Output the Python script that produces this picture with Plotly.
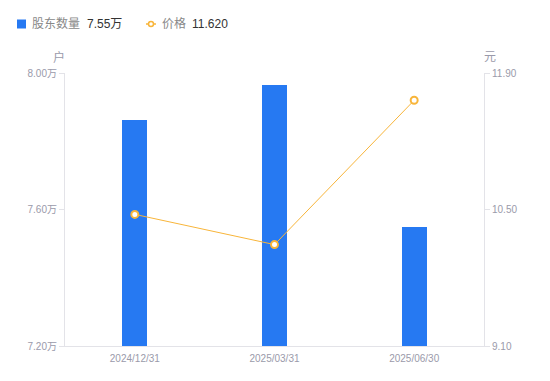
import plotly.graph_objects as go

dates = ["2024/12/31", "2025/03/31", "2025/06/30"]
holders_wan = [7.862, 7.965, 7.549]
price = [10.45, 10.14, 11.62]
left_ticks = [7.2, 7.6, 8.0]
right_ticks = [9.1, 10.5, 11.9]

BLUE = "#2679f2"
ORANGE = "#f8b53a"
GRAY = "#9a9aaa"
AX = "#e3e3e8"
FONT = "Liberation Sans, Noto Sans CJK SC, sans-serif"

L, R, T, B, W, H = 65, 66, 73, 35, 550, 381
PW, PH = W - L - R, H - T - B


def px(x):
    return (x - L) / PW


def py(y):
    return (H - B - y) / PH


fig = go.Figure()
fig.add_trace(go.Bar(x=dates, y=holders_wan, marker=dict(color=BLUE, line=dict(width=0)),
                     width=0.18, yaxis="y", showlegend=False))
fig.add_trace(go.Scatter(x=dates, y=price, yaxis="y2", mode="lines+markers",
                         line=dict(color=ORANGE, width=1),
                         marker=dict(symbol="circle", size=7, color="white",
                                     line=dict(color=ORANGE, width=2)),
                         showlegend=False))

fig.update_layout(
    width=W, height=H,
    margin=dict(l=L, r=R, t=T, b=B),
    paper_bgcolor="white", plot_bgcolor="white",
    font=dict(family=FONT, size=10, color=GRAY),
    bargap=0,
    xaxis=dict(showgrid=False, showline=True, linecolor=AX, linewidth=1,
               ticks="outside", ticklen=3, tickcolor="rgba(0,0,0,0)",
               tickfont=dict(size=10, color=GRAY), fixedrange=True),
    yaxis=dict(range=[left_ticks[0], left_ticks[-1]], tickvals=left_ticks,
               ticktext=["%.2f万" % v for v in left_ticks],
               showgrid=False, zeroline=False,
               showline=True, linecolor=AX, linewidth=1,
               ticks="outside", ticklen=5, tickcolor=AX,
               tickfont=dict(size=10, color=GRAY)),
    yaxis2=dict(range=[right_ticks[0], right_ticks[-1]], tickvals=right_ticks,
                ticktext=["%.2f" % v for v in right_ticks],
                overlaying="y", side="right", showgrid=False,
                zeroline=False, showline=True, linecolor=AX, linewidth=1,
                ticks="outside", ticklen=5, tickcolor=AX,
                tickfont=dict(size=10, color=GRAY)),
)

# axis units
fig.add_annotation(xref="paper", yref="paper", x=px(59), y=py(57),
                   text="户", showarrow=False, font=dict(size=12, color=GRAY),
                   xanchor="center", yanchor="middle")
fig.add_annotation(xref="paper", yref="paper", x=px(490), y=py(57),
                   text="元", showarrow=False, font=dict(size=12, color=GRAY),
                   xanchor="center", yanchor="middle")

# custom legend
fig.add_shape(type="rect", xref="paper", yref="paper",
              x0=px(17), x1=px(26), y0=py(28.5), y1=py(19.5),
              fillcolor=BLUE, line=dict(width=0))
fig.add_annotation(xref="paper", yref="paper", x=px(30), y=py(24),
                   text="股东数量", showarrow=False, xanchor="left", yanchor="middle",
                   font=dict(size=12, color="#888"))
fig.add_annotation(xref="paper", yref="paper", x=px(85), y=py(24),
                   text="%.2f万" % holders_wan[-1], showarrow=False,
                   xanchor="left", yanchor="middle", font=dict(size=12, color="#333"))
fig.add_shape(type="line", xref="paper", yref="paper",
              x0=px(146), x1=px(156), y0=py(24), y1=py(24),
              line=dict(color=ORANGE, width=1.5))
fig.add_shape(type="circle", xref="paper", yref="paper",
              x0=px(148.5), x1=px(153.5), y0=py(26.5), y1=py(21.5),
              fillcolor="white", line=dict(color=ORANGE, width=1.5))
fig.add_annotation(xref="paper", yref="paper", x=px(160), y=py(24),
                   text="价格", showarrow=False, xanchor="left", yanchor="middle",
                   font=dict(size=12, color="#888"))
fig.add_annotation(xref="paper", yref="paper", x=px(190), y=py(24),
                   text="%.3f" % price[-1], showarrow=False,
                   xanchor="left", yanchor="middle", font=dict(size=12, color="#333"))

fig.write_html("out.html")
